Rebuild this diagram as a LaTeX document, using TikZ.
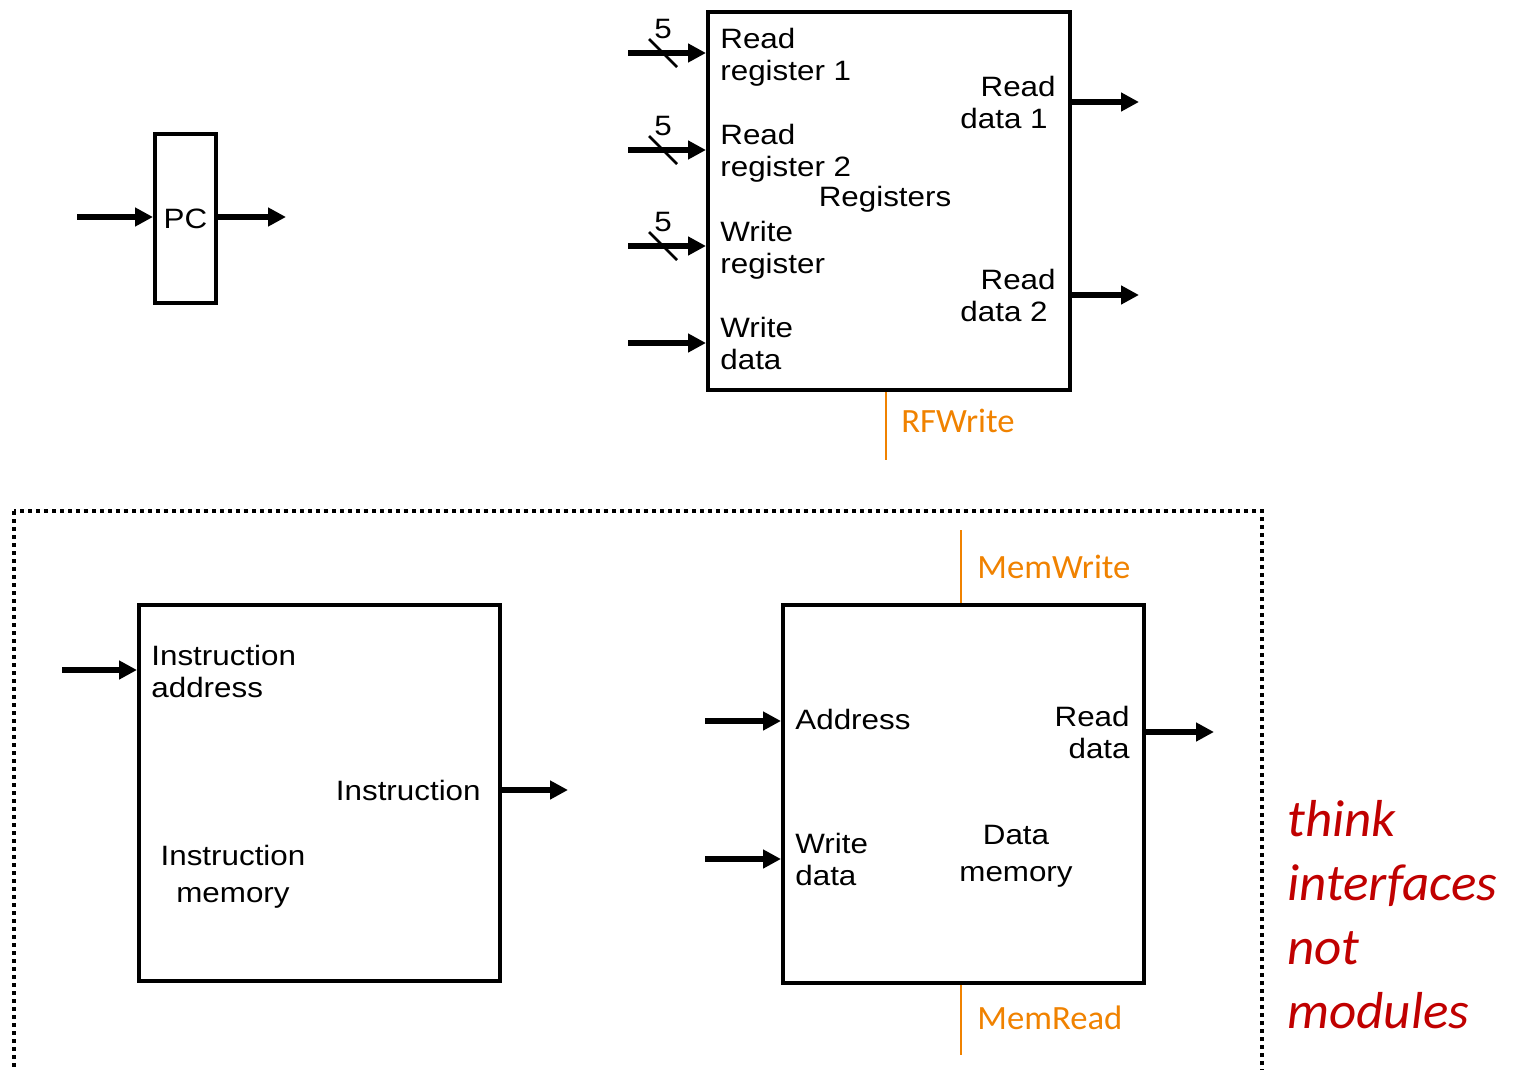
\documentclass[tikz,border=0pt]{standalone}
\usepackage{fontspec}
\setmainfont{Liberation Sans}[FakeStretch=1.12]
\newfontfamily\calib{Carlito}[FakeStretch=1.02]
\usetikzlibrary{arrows.meta}
\definecolor{ctrlorange}{RGB}{240,130,0}
\definecolor{notered}{RGB}{192,0,0}
\tikzset{
  blk/.style={draw,line width=2pt,anchor=north west,inner sep=0pt,
    font=\fontsize{14}{16}\selectfont},
  wire/.style={line width=3pt,-{Triangle[length=9pt,width=9pt]}},
  ctl/.style={draw=ctrlorange,line width=1.3pt},
  lbl/.style={inner sep=0pt,font=\fontsize{14}{16}\selectfont},
  ctllbl/.style={inner sep=0pt,anchor=west,text=ctrlorange,
    font=\calib\fontsize{17}{20}\selectfont},
}
\begin{document}
\begin{tikzpicture}[x=0.5pt,y=-0.5pt]
  \useasboundingbox (0,0) rectangle (1517,1070);
  \node[blk,minimum width=30.5pt,minimum height=84.5pt] (pc) at (153,132) {PC};
  \coordinate (pcin) at (77,217);
  \coordinate (pcout) at (286,217);
  \draw[wire] (pcin) -- (pc.west |- pcin);
  \draw[wire] (pc.east |- pcout) -- (pcout);

  \node[blk,minimum width=181pt,minimum height=189pt] (rf) at (706,10) {};
  \foreach \y/\n in {53/1,150/2,246/3,343/4} {
    \coordinate (rfin\n) at (628,\y);
    \draw[wire] (rfin\n) -- (rf.west |- rfin\n);
  }
  \foreach \y in {53,150,246} {
    \draw[line width=1.3pt] (649,\y-14) -- (677,\y+14);
    \node[lbl] at (663,\y-24) {5};
  }
  \node[lbl,anchor=north west,align=left] at (720,28) {Read\\register 1};
  \node[lbl,anchor=north west,align=left] at (720,124) {Read\\register 2};
  \node[lbl,anchor=north west,align=left] at (720,221) {Write\\register};
  \node[lbl,anchor=north west,align=left] at (720,317) {Write\\data};
  \node[lbl] at (885,199) {Registers};
  \node[lbl,anchor=north east,align=right] at (1056,76) {Read\\data 1\hspace*{4pt}};
  \node[lbl,anchor=north east,align=right] at (1056,269) {Read\\data 2\hspace*{4pt}};
  \coordinate (rd1) at (1139,102);
  \coordinate (rd2) at (1139,295);
  \draw[wire] (rf.east |- rd1) -- (rd1);
  \draw[wire] (rf.east |- rd2) -- (rd2);
  \coordinate (rfw) at (886,460);
  \draw[ctl] (rf.south -| rfw) -- (rfw);
  \node[ctllbl] at (901,421) {RFWrite};

  \draw[line width=1.8pt,dash pattern=on 1.8pt off 2.2pt] (14,511) rectangle (1262,1072);

  \node[blk,minimum width=180.5pt,minimum height=188pt] (imem) at (137,603) {};
  \coordinate (iaddr) at (62,670);
  \draw[wire] (iaddr) -- (imem.west |- iaddr);
  \node[lbl,anchor=north west,align=left] at (151,645) {Instruction\\address};
  \node[lbl,anchor=east] at (481,790) {Instruction};
  \coordinate (iout) at (568,790);
  \draw[wire] (imem.east |- iout) -- (iout);
  \node[lbl,anchor=north,align=center] at (233,845) {Instruction\\[2.5pt]memory};

  \node[blk,minimum width=180.5pt,minimum height=189pt] (dmem) at (781,603) {};
  \coordinate (mw) at (961,530);
  \coordinate (mr) at (961,1055);
  \draw[ctl] (mw) -- (dmem.north -| mw);
  \draw[ctl] (dmem.south -| mr) -- (mr);
  \node[ctllbl] at (977,567) {MemWrite};
  \node[ctllbl] at (977,1018) {MemRead};
  \coordinate (daddr) at (705,721);
  \coordinate (dwd) at (705,859);
  \coordinate (drd) at (1214,732);
  \draw[wire] (daddr) -- (dmem.west |- daddr);
  \draw[wire] (dwd) -- (dmem.west |- dwd);
  \draw[wire] (dmem.east |- drd) -- (drd);
  \node[lbl,anchor=west] at (795,719) {Address};
  \node[lbl,anchor=north west,align=left] at (795,833) {Write\\data};
  \node[lbl,anchor=north east,align=right] at (1130,706) {Read\\data};
  \node[lbl,anchor=north,align=center] at (1016,825) {Data\\[2.5pt]memory};

  \node[anchor=north west,align=left,inner sep=0pt,text=notered,
    font=\calib\itshape\fontsize{26}{32}\selectfont] (note) at (1287,800)
    {think\\interfaces\\not\\modules};
\end{tikzpicture}
\end{document}
